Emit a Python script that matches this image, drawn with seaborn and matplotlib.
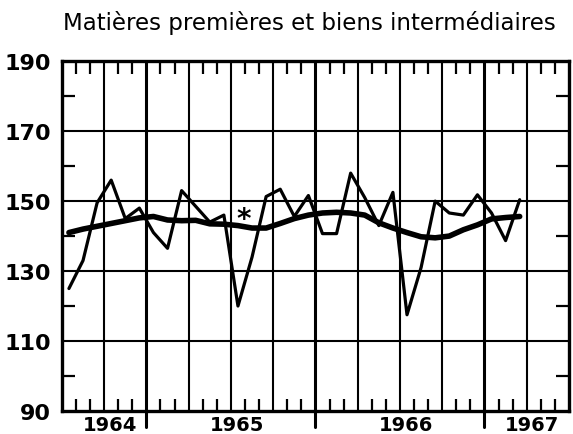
import matplotlib
matplotlib.use("Agg")
import matplotlib.pyplot as plt
import numpy as np
import pandas as pd
import seaborn as sns

# monthly index, July 1964 to March 1967
months = pd.period_range("1964-07", "1967-03", freq="M")
raw_index = [125, 133, 149.5, 156, 145, 148, 141, 136.5, 153, 148.5, 144, 146,
             120, 134, 151.3, 153.4, 145.6, 151.6, 140.7, 140.7, 158, 151, 143, 152.5,
             117.5, 131, 150, 146.6, 146, 151.8, 146.6, 138.7, 150.4]
trend_index = [141.0, 142.0, 142.8, 143.6, 144.4, 145.2, 145.6, 144.6, 144.4, 144.5, 143.5, 143.4,
               143.0, 142.3, 142.3, 143.6, 145.0, 146.0, 146.6, 146.8, 146.6, 146.0, 143.8, 142.3,
               141.0, 139.8, 139.5, 140.0, 141.8, 143.2, 144.9, 145.3, 145.6]
year_labels = ["1964", "1965", "1966", "1967"]
y_ticks = [90, 110, 130, 150, 170, 190]
title = "Matières premières et biens intermédiaires"

sns.set_theme(style="white")
plt.rcParams["font.family"] = ["DejaVu Sans"]
plt.rcParams["text.color"] = "black"
plt.rcParams["xtick.color"] = "black"
plt.rcParams["ytick.color"] = "black"

start = pd.Period("1964-07", freq="M")
x = np.array([(m - start).n for m in months]) + 0.5
df = pd.DataFrame({"x": x, "raw": raw_index, "trend": trend_index})

fig = plt.figure(figsize=(5.73, 4.35), dpi=100)
ax = fig.add_axes([0.108, 0.053, 0.885, 0.804])

# grid: every quarter, thicker at year boundaries
n_months = 36
year_bounds = [6, 18, 30]
for q in range(3, n_months, 3):
    lw = 2.2 if q in year_bounds else 1.5
    ax.axvline(q, color="black", lw=lw, zorder=1)
for v in [110, 130, 150, 170]:
    ax.axhline(v, color="black", lw=1.5, zorder=1)

sns.lineplot(data=df, x="x", y="raw", ax=ax, color="black", lw=2.3, zorder=3)
sns.lineplot(data=df, x="x", y="trend", ax=ax, color="black", lw=4.0, zorder=4)

ax.text(12.9, 145.0, "*", fontsize=20, fontweight="bold", color="black",
        ha="center", va="center")

ax.set_xlim(0, n_months)
ax.set_ylim(90, 190)

# year labels centred in each year's span
spans = [0] + year_bounds + [n_months]
centres = [(a + b) / 2 + 0.4 for a, b in zip(spans[:-1], spans[1:])]
ax.set_xticks(centres)
ax.set_xticklabels(year_labels, fontsize=14, fontweight="bold")
ax.tick_params(axis="x", which="major", length=0, pad=3)
ax.set_xticks([m for m in range(1, n_months) if m % 3], minor=True)
ax.tick_params(axis="x", which="minor", direction="in", top=True, bottom=True,
               length=9, width=1.6, color="black")

ax.set_yticks(y_ticks)
ax.set_yticklabels([str(v) for v in y_ticks], fontsize=16, fontweight="bold")
ax.tick_params(axis="y", which="major", length=0, pad=8)
ax.set_yticks(range(100, 190, 20), minor=True)
ax.tick_params(axis="y", which="minor", direction="in", left=True, right=True,
               length=9.5, width=1.6, color="black")

# long ticks below the axis at year boundaries
for b in year_bounds:
    ax.plot([b, b], [0, -0.045], transform=ax.get_xaxis_transform(),
            color="black", lw=2.2, clip_on=False)

for s in ax.spines.values():
    s.set_linewidth(2.4)
    s.set_color("black")

ax.set_xlabel("")
ax.set_ylabel("")
fig.text(0.54, 0.948, title, fontsize=16.5, color="black", ha="center", va="center")

fig.savefig("out.png", dpi=100)
